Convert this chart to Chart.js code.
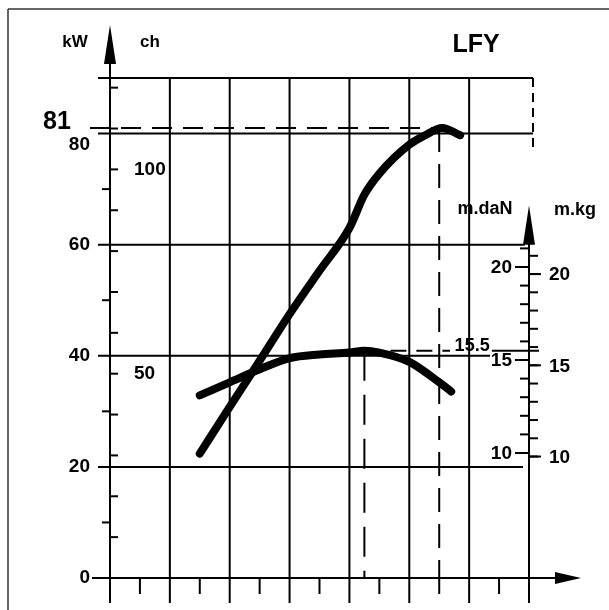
<!DOCTYPE html>
<html>
<head>
<meta charset="utf-8">
<script src="https://cdn.jsdelivr.net/npm/chart.js@4"></script>
<style>
  html, body { margin: 0; padding: 0; background: #fff; }
  #wrap { width: 609px; height: 610px; position: relative; }
</style>
</head>
<body>
<div id="wrap"><canvas id="engineChart" width="609" height="610"></canvas></div>
<script>
// power curve, kW against engine speed
const powerRpm = [1500, 2000, 2500, 3000, 3500, 4000, 4250, 4500, 5000, 5250, 5550, 5850];
const powerKw = [22.4, 30.8, 39.1, 47.5, 55.3, 63, 69, 72.8, 78, 79.6, 81, 79.7];

// torque curve, m.daN against engine speed
const torqueRpm = [1500, 2000, 2500, 3000, 3500, 4000, 4250, 4500, 5000, 5500, 5700];
const torqueDaN = [13.1, 13.8, 14.5, 15.1, 15.3, 15.4, 15.5, 15.4, 14.9, 13.8, 13.3];

// axis ticks
const kwTicks = [0, 20, 40, 60, 80];
const chTicks = [50, 100];
const danTicks = [10, 15, 20];
const kgTicks = [10, 15, 20];
const rpmGrid = [1000, 2000, 3000, 4000, 5000, 6000];

const maxPower = { rpm: 5500, kw: 81 };
const maxTorque = { rpm: 4250, dan: 15.5 };

const KW_PER_CH = 0.7355;
const DAN_PER_KG = 0.981;
const BOLD = '"Liberation Sans", Arial, sans-serif';

function line(ctx, x1, y1, x2, y2) {
    ctx.beginPath();
    ctx.moveTo(x1, y1);
    ctx.lineTo(x2, y2);
    ctx.stroke();
}

function text(ctx, str, x, y, size, align) {
    ctx.font = `bold ${size}px ${BOLD}`;
    ctx.textAlign = align || 'center';
    ctx.textBaseline = 'middle';
    ctx.fillText(str, x, y);
}

const engineAxes = {
    id: 'engineAxes',
    beforeDatasetsDraw(chart) {
        const ctx = chart.ctx;
        const X = v => chart.scales.x.getPixelForValue(v);
        const Y = v => chart.scales.y.getPixelForValue(v);
        const T = v => chart.scales.y2.getPixelForValue(v);
        const x0 = X(0), xr = X(7000), y0 = Y(0), yTop = Y(90);

        ctx.save();
        ctx.fillStyle = '#000';
        ctx.lineCap = 'butt';

        // page frame
        ctx.lineWidth = 1.5;
        ctx.strokeStyle = '#333';
        line(ctx, 8, 610, 8, 9);
        line(ctx, 8, 9, 609, 9);
        ctx.strokeStyle = '#000';

        ctx.lineWidth = 2;
        // vertical rpm grid
        rpmGrid.forEach(r => line(ctx, X(r), yTop, X(r), y0 + 25));
        // minor rpm ticks
        for (let r = 500; r < 7000; r += 1000) line(ctx, X(r), y0, X(r), y0 + 16);

        // horizontal kW grid
        line(ctx, x0 - 12, Y(90), xr + 4, Y(90));
        line(ctx, x0 - 12, Y(80), xr + 4, Y(80));
        line(ctx, x0 - 12, Y(60), X(6930), Y(60));
        line(ctx, x0 - 12, Y(40), X(6350), Y(40));
        line(ctx, x0 - 12, Y(20), X(6900), Y(20));

        // rpm axis with arrow
        line(ctx, x0 - 18, y0, xr + 30, y0);
        ctx.beginPath();
        ctx.moveTo(xr + 26, y0 - 6);
        ctx.lineTo(xr + 52, y0);
        ctx.lineTo(xr + 26, y0 + 6);
        ctx.closePath();
        ctx.fill();

        // kW / ch axis with arrow
        line(ctx, x0, y0 + 25, x0, yTop - 20);
        ctx.beginPath();
        ctx.moveTo(x0, yTop - 53);
        ctx.lineTo(x0 + 6, yTop - 14);
        ctx.lineTo(x0 - 6, yTop - 14);
        ctx.closePath();
        ctx.fill();
        [10, 30, 50, 70].forEach(v => line(ctx, x0 - 8, Y(v), x0, Y(v)));
        for (let c = 10; c <= 120; c += 10) line(ctx, x0, Y(c * KW_PER_CH), x0 + 8, Y(c * KW_PER_CH));

        // torque axis: dashed top part, arrow, solid shaft
        ctx.setLineDash([9, 6]);
        line(ctx, xr + 4, yTop, xr + 4, T(26.3));
        ctx.setLineDash([]);
        line(ctx, xr, T(21.3), xr, y0 + 25);
        ctx.beginPath();
        ctx.moveTo(xr, T(23.3));
        ctx.lineTo(xr + 6, T(21.2));
        ctx.lineTo(xr - 6, T(21.2));
        ctx.closePath();
        ctx.fill();
        for (let d = 10; d <= 21; d++) line(ctx, xr - 9, T(d), xr, T(d));
        for (let k = 10; k <= 21; k++) line(ctx, xr, T(k * DAN_PER_KG), xr + 9, T(k * DAN_PER_KG));
        danTicks.forEach(d => line(ctx, xr - 14, T(d), xr, T(d)));
        kgTicks.forEach(k => line(ctx, xr, T(k * DAN_PER_KG), xr + 12, T(k * DAN_PER_KG)));

        // maximum power marks
        ctx.setLineDash([20, 11]);
        line(ctx, x0 - 20, Y(maxPower.kw), X(maxPower.rpm), Y(maxPower.kw));
        ctx.setLineDash([24, 12]);
        line(ctx, X(maxPower.rpm), Y(maxPower.kw), X(maxPower.rpm), y0);

        // maximum torque marks
        ctx.setLineDash([30, 14]);
        line(ctx, X(maxTorque.rpm), T(maxTorque.dan), X(maxTorque.rpm), y0);
        ctx.setLineDash([16, 10]);
        line(ctx, X(maxTorque.rpm), T(maxTorque.dan), X(5680), T(maxTorque.dan));
        ctx.setLineDash([]);
        line(ctx, X(6380), T(maxTorque.dan), xr + 10, T(maxTorque.dan));

        ctx.restore();
    },
    afterDatasetsDraw(chart) {
        const ctx = chart.ctx;
        const X = v => chart.scales.x.getPixelForValue(v);
        const Y = v => chart.scales.y.getPixelForValue(v);
        const T = v => chart.scales.y2.getPixelForValue(v);
        const x0 = X(0), xr = X(7000);

        ctx.save();
        ctx.fillStyle = '#000';

        text(ctx, 'kW', x0 - 35, 42, 17);
        text(ctx, 'ch', x0 + 40, 42, 17);
        text(ctx, 'LFY', 476, 45, 25);

        text(ctx, String(maxPower.kw), x0 - 53, Y(maxPower.kw) - 6, 25);
        kwTicks.forEach(v => {
            const y = v === 80 ? Y(v) + 11 : Y(v);
            text(ctx, String(v), x0 - 20, y, 19, 'right');
        });
        chTicks.forEach(c => text(ctx, String(c), x0 + 24, Y(c * KW_PER_CH), 19, 'left'));

        text(ctx, 'm.daN', xr - 44, 209, 18);
        text(ctx, 'm.kg', xr + 46, 210, 18);
        danTicks.forEach(d => text(ctx, String(d), xr - 17, T(d) + 1, 19, 'right'));
        kgTicks.forEach(k => text(ctx, String(k), xr + 20, T(k * DAN_PER_KG) + 1, 19, 'left'));
        text(ctx, String(maxTorque.dan), X(6050), T(maxTorque.dan) - 5, 18);

        ctx.restore();
    }
};

new Chart(document.getElementById('engineChart'), {
    type: 'line',
    data: {
        datasets: [
            {
                label: 'kW',
                data: powerRpm.map((r, i) => ({ x: r, y: powerKw[i] })),
                yAxisID: 'y',
                borderColor: '#000',
                borderWidth: 8,
                cubicInterpolationMode: 'monotone',
                pointRadius: 0,
                borderCapStyle: 'round',
                borderJoinStyle: 'round',
                clip: false
            },
            {
                label: 'm.daN',
                data: torqueRpm.map((r, i) => ({ x: r, y: torqueDaN[i] })),
                yAxisID: 'y2',
                borderColor: '#000',
                borderWidth: 8,
                cubicInterpolationMode: 'monotone',
                pointRadius: 0,
                borderCapStyle: 'round',
                borderJoinStyle: 'round',
                clip: false
            }
        ]
    },
    options: {
        responsive: false,
        animation: false,
        devicePixelRatio: 1,
        layout: { padding: { left: 110, right: 80, top: 78, bottom: 32 } },
        scales: {
            x: { type: 'linear', min: 0, max: 7000, display: false },
            y: { type: 'linear', min: 0, max: 90, display: false },
            y2: { type: 'linear', min: 3.28, max: 30.16, display: false }
        },
        plugins: {
            legend: { display: false },
            tooltip: { enabled: false }
        }
    },
    plugins: [engineAxes]
});
</script>
</body>
</html>
